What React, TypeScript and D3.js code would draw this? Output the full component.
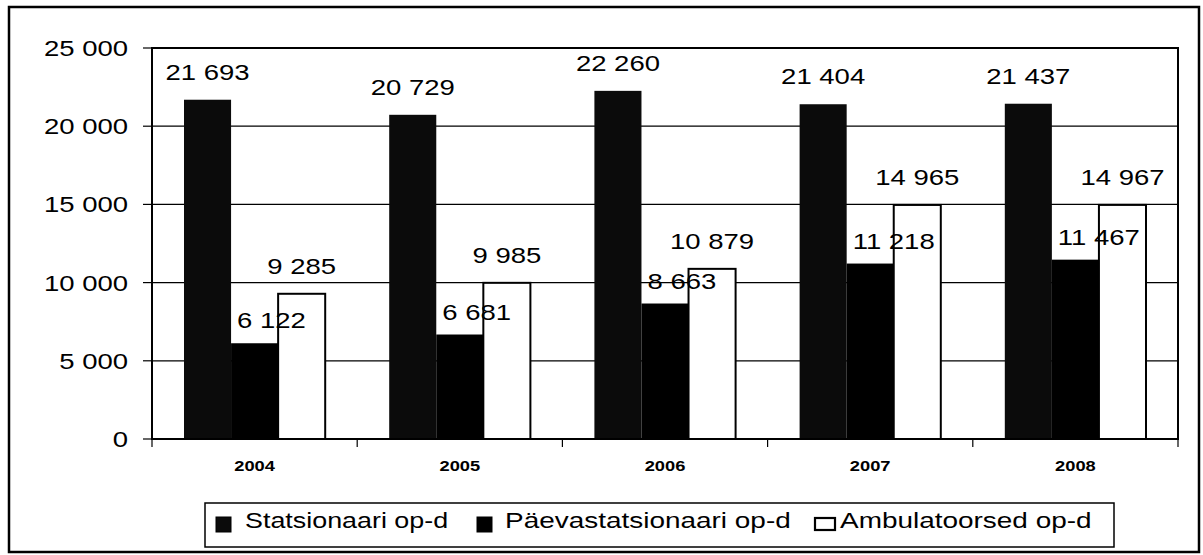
import React from "react";
import * as d3 from "d3";

const years = ["2004", "2005", "2006", "2007", "2008"];
const seriesNames = ["Statsionaari op-d", "Päevastatsionaari op-d", "Ambulatoorsed op-d"];
const statsionaari = [21693, 20729, 22260, 21404, 21437];
const paevastatsionaari = [6122, 6681, 8663, 11218, 11467];
const ambulatoorsed = [9285, 9985, 10879, 14965, 14967];
const yTicks = [0, 5000, 10000, 15000, 20000, 25000];

const W = 1203;
const H = 555;
const plot = { left: 152, right: 1178, top: 48, bottom: 439 };
const FONT = "'Liberation Sans', Arial, Helvetica, sans-serif";

const fills = ["#0b0b0b", "#000000", "#ffffff"];

const locale = d3.formatLocale({ decimal: ",", thousands: " ", grouping: [3], currency: ["", ""] });
const fmt = locale.format(",d");

function SText({ x, y, size, sx = 1.25, anchor = "middle", bold = false, children }: any) {
  return (
    <text
      transform={`translate(${x},${y}) scale(${sx},1)`}
      textAnchor={anchor}
      fontFamily={FONT}
      fontSize={size}
      fontWeight={bold ? "bold" : "normal"}
      fill="#000"
    >
      {children}
    </text>
  );
}

export default function App() {
  const allSeries = [statsionaari, paevastatsionaari, ambulatoorsed];
  const x0 = d3.scaleBand<string>().domain(years).range([plot.left, plot.right]).padding(0);
  const x1 = d3
    .scaleBand<string>()
    .domain(seriesNames)
    .range([0, x0.bandwidth()])
    .paddingInner(0)
    .paddingOuter(0.68);
  const y = d3.scaleLinear().domain([0, 25000]).range([plot.bottom, plot.top]);

  const legendMarkerX = [216, 477, 815];
  const legendTextX = [245, 505, 840];
  const legendScale = [1.25, 1.3, 1.3];

  return (
    <svg width={W} height={H} style={{ position: "absolute", left: 0, top: 0, background: "#fff" }}>
      <rect x={0} y={0} width={W} height={H} fill="#fff" />
      {/* outer frame */}
      <rect x={9} y={7} width={1190} height={545} fill="none" stroke="#000" strokeWidth={2.5} />

      {/* gridlines */}
      {yTicks.map((t) => (
        <line key={"g" + t} x1={plot.left} x2={plot.right} y1={y(t)} y2={y(t)} stroke="#000" strokeWidth={1.2} />
      ))}

      {/* bars */}
      {years.map((yr, i) =>
        seriesNames.map((s, j) => {
          const v = allSeries[j][i];
          const bx = (x0(yr) as number) + (x1(s) as number);
          const bw = x1.bandwidth();
          return (
            <rect
              key={yr + s}
              x={bx}
              y={y(v)}
              width={bw}
              height={y(0) - y(v)}
              fill={fills[j]}
              stroke={j === 2 ? "#000" : "none"}
              strokeWidth={j === 2 ? 2 : 0}
            />
          );
        })
      )}

      {/* plot border */}
      <rect
        x={plot.left}
        y={plot.top}
        width={plot.right - plot.left}
        height={plot.bottom - plot.top}
        fill="none"
        stroke="#000"
        strokeWidth={2}
      />

      {/* y ticks & labels */}
      {yTicks.map((t) => (
        <g key={"yt" + t}>
          <line x1={plot.left - 9} x2={plot.left} y1={y(t)} y2={y(t)} stroke="#000" strokeWidth={1.2} />
          <SText x={128} y={y(t) + 8} size={22} anchor="end">
            {fmt(t)}
          </SText>
        </g>
      ))}

      {/* x ticks */}
      {years.map((yr) => (
        <line
          key={"xt" + yr}
          x1={x0(yr) as number}
          x2={x0(yr) as number}
          y1={plot.bottom}
          y2={plot.bottom + 8}
          stroke="#000"
          strokeWidth={1.2}
        />
      ))}
      <line x1={plot.right} x2={plot.right} y1={plot.bottom} y2={plot.bottom + 8} stroke="#000" strokeWidth={1.2} />

      {/* x labels */}
      {years.map((yr) => (
        <SText key={"xl" + yr} x={(x0(yr) as number) + x0.bandwidth() / 2} y={471} size={15} sx={1.22} bold>
          {yr}
        </SText>
      ))}

      {/* value labels */}
      {years.map((yr, i) =>
        seriesNames.map((s, j) => {
          const v = allSeries[j][i];
          const bx = (x0(yr) as number) + (x1(s) as number);
          const bw = x1.bandwidth();
          if (j === 1) {
            return (
              <SText key={"vl" + yr + s} x={bx + 6} y={y(v) - 15} size={22} anchor="start">
                {fmt(v)}
              </SText>
            );
          }
          return (
            <SText key={"vl" + yr + s} x={bx + bw / 2} y={y(v) - 20} size={22}>
              {fmt(v)}
            </SText>
          );
        })
      )}

      {/* legend */}
      <rect x={205} y={503} width={909} height={44} fill="#fff" stroke="#000" strokeWidth={1.5} />
      {seriesNames.map((s, j) => (
        <g key={"lg" + s}>
          {j === 2 ? (
            <rect x={legendMarkerX[j]} y={518} width={20} height={12} fill="#fff" stroke="#000" strokeWidth={2.2} />
          ) : (
            <rect
              x={legendMarkerX[j]}
              y={517}
              width={15}
              height={15}
              fill={fills[j]}
              stroke="#000"
              strokeWidth={1}
            />
          )}
          <SText x={legendTextX[j]} y={528} size={21.5} sx={legendScale[j]} anchor="start">
            {s}
          </SText>
        </g>
      ))}
    </svg>
  );
}
